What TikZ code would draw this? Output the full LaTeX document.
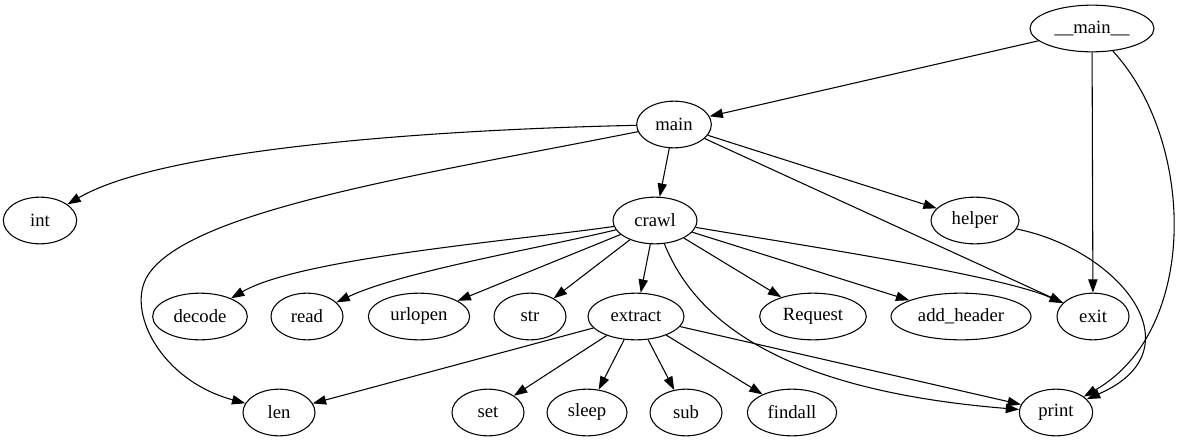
\documentclass[tikz,border=0pt]{standalone}
\usepackage{fontspec}
\setmainfont{Liberation Serif}
\usetikzlibrary{shapes.geometric,arrows.meta}
\begin{document}
\begin{tikzpicture}[x=0.75pt,y=-0.75pt,
  nd/.style={ellipse,draw,line width=0.8pt,inner sep=0pt,minimum height=35pt,minimum width=#1,font=\fontsize{14}{16}\selectfont},
  edge/.style={line width=0.8pt,-{Triangle[length=10pt,width=7pt]}}]
\useasboundingbox (0,0) rectangle (1185,443);
% nodes
\node[nd=93pt] (M) at (1092,28.5) {\_\_main\_\_};
\node[nd=56pt] (main) at (674,124.5) {main};
\node[nd=55pt] (int) at (40,220.5) {int};
\node[nd=63pt] (crawl) at (655,220.5) {crawl};
\node[nd=66pt] (helper) at (975,220.5) {helper};
\node[nd=71pt] (decode) at (200,316.5) {decode};
\node[nd=54pt] (read) at (307,316.5) {read};
\node[nd=76pt] (urlopen) at (419,316.5) {urlopen};
\node[nd=54pt] (str) at (530,316.5) {str};
\node[nd=72pt] (extract) at (636,316.5) {extract};
\node[nd=80pt] (Request) at (813,316.5) {Request};
\node[nd=105pt] (addh) at (961,316.5) {add\_header};
\node[nd=54pt] (exit) at (1093,316.5) {exit};
\node[nd=54pt] (len) at (279,412.5) {len};
\node[nd=54pt] (set) at (488,412.5) {set};
\node[nd=60pt] (sleep) at (587,412.5) {sleep};
\node[nd=54pt] (sub) at (686,412.5) {sub};
\node[nd=67pt] (findall) at (792,412.5) {findall};
\node[nd=55pt] (print) at (1056,412.5) {print};
% edges from __main__
\draw[edge] (M) -- (main);
\draw[edge] (M) -- (exit);
\draw[edge] (M) .. controls (1195,140) and (1200,330) .. (print);
% edges from main
\draw[edge] (main) .. controls (420,130) and (160,150) .. (int);
\draw[edge] (main) .. controls (420,175) and (190,210) .. (148,275) .. controls (125.4,310) and (160,380) .. (len);
\draw[edge] (main) -- (crawl);
\draw[edge] (main) -- (helper);
\draw[edge] (main) -- (exit);
% edges from crawl
\draw[edge] (crawl) .. controls (520,240) and (300,258) .. (decode);
\draw[edge] (crawl) .. controls (540,248) and (400,272) .. (read);
\draw[edge] (crawl) -- (urlopen);
\draw[edge] (crawl) -- (str);
\draw[edge] (crawl) -- (extract);
\draw[edge] (crawl) -- (Request);
\draw[edge] (crawl) -- (addh);
\draw[edge] (crawl) .. controls (800,245) and (1000,275) .. (exit);
\draw[edge] (crawl) .. controls (695,320) and (780,390) .. (print);
% edge from helper
\draw[edge] (helper) .. controls (1120,250) and (1200,350) .. (print);
% edges from extract
\draw[edge] (extract) -- (len);
\draw[edge] (extract) -- (set);
\draw[edge] (extract) -- (sleep);
\draw[edge] (extract) -- (sub);
\draw[edge] (extract) -- (findall);
\draw[edge] (extract) -- (print);
\end{tikzpicture}
\end{document}
